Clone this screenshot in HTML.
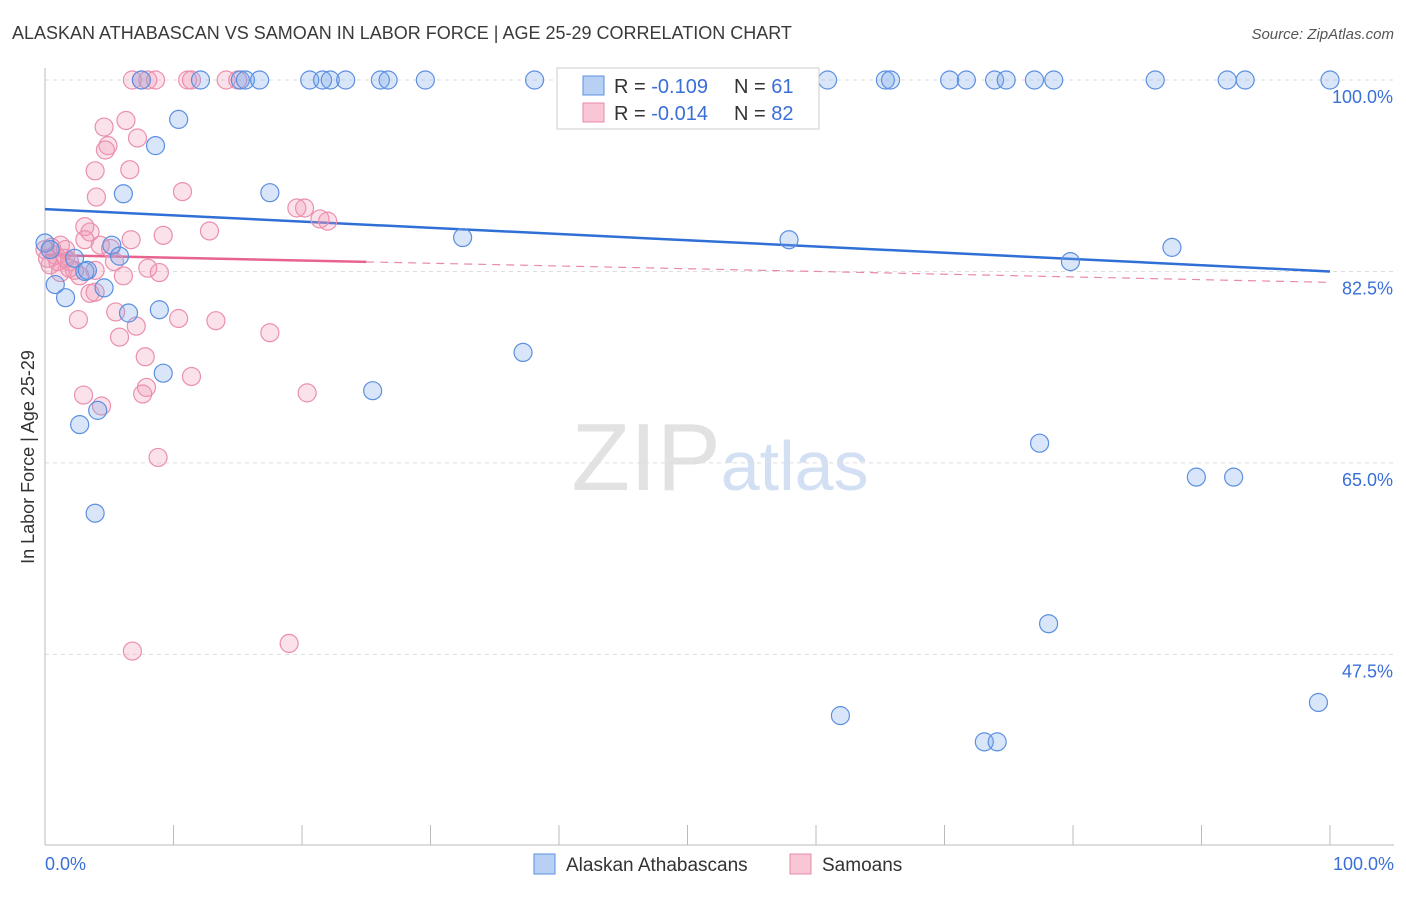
<!DOCTYPE html>
<html><head><meta charset="utf-8"><style>
body{margin:0;background:#fff;font-family:"Liberation Sans",sans-serif}
svg text{font-family:"Liberation Sans",sans-serif}
</style></head><body>
<svg id="chart" width="1406" height="892" viewBox="0 0 1406 892">
<text x="12" y="39" font-size="18" fill="#3a3a3a">ALASKAN ATHABASCAN VS SAMOAN IN LABOR FORCE | AGE 25-29 CORRELATION CHART</text>
<text x="1394" y="39" font-size="15" fill="#555" text-anchor="end" font-style="italic">Source: ZipAtlas.com</text>
<text x="720" y="490" font-size="96" text-anchor="middle" fill="#e2e2e2" font-family="Liberation Serif">ZIP<tspan fill="#d3e0f4" font-family="Liberation Sans" font-size="70">atlas</tspan></text>
<text transform="translate(34,457) rotate(-90)" font-size="18" fill="#333" text-anchor="middle">In Labor Force | Age 25-29</text>
<g id="grid"></g><g id="axes"></g><g id="trends"></g><g id="pts"></g>
<g>
<rect x="557" y="68" width="262" height="61" fill="#fff" stroke="#ccc"/>
<rect x="583" y="76" width="21" height="19" fill="#b8d0f4" stroke="#5b8fe0"/>
<rect x="583" y="103" width="21" height="19" fill="#f8c6d4" stroke="#e88aa8"/>
<text x="614" y="93" font-size="20" fill="#333">R = <tspan fill="#3a6fd8">-0.109</tspan></text>
<text x="734" y="93" font-size="20" fill="#333">N = <tspan fill="#3a6fd8">61</tspan></text>
<text x="614" y="120" font-size="20" fill="#333">R = <tspan fill="#3a6fd8">-0.014</tspan></text>
<text x="734" y="120" font-size="20" fill="#333">N = <tspan fill="#3a6fd8">82</tspan></text>
</g>
<g>
<rect x="534" y="854" width="21" height="20" fill="#b8d0f4" stroke="#5b8fe0"/>
<text x="566" y="871" font-size="19" fill="#333">Alaskan Athabascans</text>
<rect x="790" y="854" width="21" height="20" fill="#f8c6d4" stroke="#e88aa8"/>
<text x="822" y="871" font-size="19" fill="#333">Samoans</text>
</g>
</svg>
<script>
const yTicks=[100,82.5,65,47.5];
const yTickLabels=["100.0%","82.5%","65.0%","47.5%"];
const xTickLabels=["0.0%","100.0%"];
const blueX=[7.5,12.1,15.2,15.6,16.7,20.6,21.6,22.2,23.4,26.1,26.7,29.6,38.1,53.1,60.9,65.4,65.8,70.4,71.7,73.9,74.8,77,78.5,86.4,92,93.4,100,10.4,8.6,6.1,17.5,32.5,57.9,87.7,79.8,0,5.2,5.8,3.1,0.8,1.6,4.6,6.5,8.9,9.2,25.5,37.2,2.7,4.1,3.9,77.4,89.6,92.5,78.1,61.9,73.1,74.1,99.1,2.3,3.3,0.4];
const blueY=[100,100,100,100,100,100,100,100,100,100,100,100,100,100,100,100,100,100,100,100,100,100,100,100,100,100,100,96.4,94.0,89.6,89.7,85.6,85.4,84.7,83.4,85.1,84.9,83.9,82.5,81.3,80.1,81.0,78.7,79.0,73.2,71.6,75.1,68.5,69.8,60.4,66.8,63.7,63.7,50.3,41.9,39.5,39.5,43.1,83.7,82.6,84.5];
const pinkX=[6.8,7.5,8.0,8.6,11.1,11.4,14.1,15.0,6.3,4.6,7.2,4.9,4.7,3.9,6.6,4.0,10.7,19.6,20.2,21.4,22.0,3.1,12.8,9.2,6.7,3.5,3.1,4.3,1.2,0.5,0,0.8,1.6,0.4,1.9,2.3,1.2,2.7,6.1,8.0,8.9,5.4,3.5,3.9,2.6,5.5,7.1,10.4,13.3,17.5,5.8,7.8,11.4,7.9,3.0,7.6,20.4,4.4,8.8,6.8,19.0,5.1,1.6,1.9,1.0,0.2,3.9];
const pinkY=[100,100,100,100,100,100,100,100,96.3,95.7,94.7,94.0,93.6,91.7,91.8,89.3,89.8,88.3,88.3,87.3,87.1,86.6,86.2,85.8,85.4,86.1,85.4,84.9,84.9,84.7,84.5,84.0,83.7,83.1,83.4,82.6,82.4,82.1,82.1,82.8,82.4,83.4,80.5,80.6,78.1,78.8,77.5,78.2,78.0,76.9,76.5,74.7,72.9,71.9,71.2,71.3,71.4,70.2,65.5,47.8,48.5,84.6,84.5,82.8,83.4,83.7,82.6];
const blueTrend=[88.2,82.5];
const pinkTrend=[84.0,81.5];
const pinkSolidEnd=25;
const NS="http://www.w3.org/2000/svg";
const sx=v=>45+v*12.85;
const sy=v=>80+(100-v)*10.94;
function mk(tag,attrs,parent){const e=document.createElementNS(NS,tag);for(const k in attrs)e.setAttribute(k,attrs[k]);parent.appendChild(e);return e;}
const grid=document.getElementById('grid'),axes=document.getElementById('axes'),tr=document.getElementById('trends'),pts=document.getElementById('pts');
yTicks.forEach((t,i)=>{
 const l=mk('line',{x1:45,x2:1394,y1:sy(t),y2:sy(t),stroke:'#ddd','stroke-dasharray':'4,4'},grid);
 
 
 const tx=mk('text',{x:1393,y:sy(t)+23,'font-size':18,fill:'#3a6fd8','text-anchor':'end'},grid);
 tx.textContent=yTickLabels[i];
 
 
});
let a=mk('line',{x1:45,x2:45,y1:68,y2:845,stroke:'#bbb'},axes);


a=mk('line',{x1:45,x2:1394,y1:845,y2:845,stroke:'#bbb'},axes);


for(let i=0;i<=10;i++){const t=mk('line',{x1:sx(i*10),x2:sx(i*10),y1:825,y2:845,stroke:'#bbb'},axes);
 
 }
[[0,'start',45],[100,'end',1394]].forEach((d,i)=>{const t=mk('text',{x:d[2],y:870,'font-size':18,fill:'#3a6fd8','text-anchor':d[1]},axes);t.textContent=xTickLabels[i];
 
 });
const lerp=(tv,x)=>tv[0]+(tv[1]-tv[0])*x/100;
let l=mk('line',{x1:sx(0),y1:sy(blueTrend[0]),x2:sx(100),y2:sy(blueTrend[1]),stroke:'#2f6fd6','stroke-width':2.5},tr);


l=mk('line',{x1:sx(pinkSolidEnd),y1:sy(lerp(pinkTrend,pinkSolidEnd)),x2:sx(100),y2:sy(pinkTrend[1]),stroke:'#e88aa8','stroke-width':1.2,'stroke-dasharray':'8,6'},tr);


l=mk('line',{x1:sx(0),y1:sy(pinkTrend[0]),x2:sx(pinkSolidEnd),y2:sy(lerp(pinkTrend,pinkSolidEnd)),stroke:'#e8648e','stroke-width':2.5},tr);


pinkX.forEach((x,i)=>{const c=mk('circle',{cx:sx(x),cy:sy(pinkY[i]),r:9,fill:'rgba(242,150,178,0.28)',stroke:'#ea8fae','stroke-width':1.2},pts);
 
 });
blueX.forEach((x,i)=>{const c=mk('circle',{cx:sx(x),cy:sy(blueY[i]),r:9,fill:'rgba(120,165,232,0.28)',stroke:'#5b8fe0','stroke-width':1.2},pts);
 
 });
</script>
</body></html>
